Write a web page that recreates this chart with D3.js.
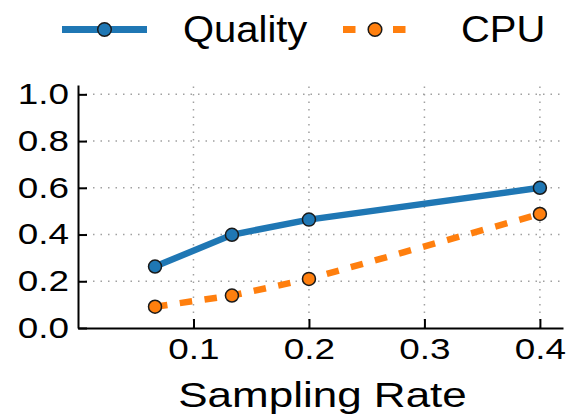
<!DOCTYPE html>
<html>
<head>
<meta charset="utf-8">
<script src="https://cdn.jsdelivr.net/npm/d3@7"></script>
<style>
  body { margin: 0; background: #fff; }
  svg { font-family: "Liberation Sans", Arial, Helvetica, sans-serif; }
  .grid line { stroke: #a0a0a0; stroke-width: 1.5; stroke-dasharray: 1.5, 6; }
  .axis path, .axis line { stroke: #000; stroke-width: 2; }
</style>
</head>
<body>
<div class="chart"></div>
<script>
// data
var samplingRate = [0.0667, 0.1333, 0.2, 0.4];
var quality = [0.263, 0.399, 0.464, 0.600];
var cpu = [0.091, 0.139, 0.210, 0.488];
var xTicks = [0.1, 0.2, 0.3, 0.4];
var yTicks = [0.0, 0.2, 0.4, 0.6, 0.8, 1.0];

// dimensions
var W = 568, H = 418;
var plotLeft = 78, plotRight = 563, plotTop = 85, plotBottom = 328;
var stretch = 1.25;

var x = d3.scaleLinear().domain([0, 0.42]).range([plotLeft, plotRight]);
var y = d3.scaleLinear().domain([0, 1.04]).range([plotBottom, plotTop]);

var svg = d3.select(".chart").append("svg")
  .attr("width", W)
  .attr("height", H);

// grid
var grid = svg.append("g").attr("class", "grid");
grid.selectAll(".gx")
  .data(xTicks)
  .enter().append("line")
  .attr("x1", function(d) { return x(d); })
  .attr("x2", function(d) { return x(d); })
  .attr("y1", plotBottom)
  .attr("y2", y(1.04));
grid.selectAll(".gy")
  .data(yTicks.slice(1))
  .enter().append("line")
  .attr("x1", plotLeft)
  .attr("x2", plotRight)
  .attr("y1", function(d) { return y(d); })
  .attr("y2", function(d) { return y(d); });

// axes
var xAxis = svg.append("g")
  .attr("class", "axis")
  .attr("transform", "translate(0," + plotBottom + ")")
  .call(d3.axisBottom(x)
    .tickValues(xTicks)
    .tickSizeInner(-9)
    .tickSizeOuter(0)
    .tickPadding(10)
    .tickFormat(d3.format(".1f")));
xAxis.selectAll("text")
  .attr("font-size", 29.5)
  .attr("fill", "#000")
  .attr("transform", "scale(" + stretch + ",1)");

var yAxis = svg.append("g")
  .attr("class", "axis")
  .attr("transform", "translate(" + plotLeft + ",0)")
  .call(d3.axisLeft(y)
    .tickValues(yTicks)
    .tickSizeInner(-9)
    .tickSizeOuter(0)
    .tickPadding(9)
    .tickFormat(d3.format(".1f")));
yAxis.selectAll("text")
  .attr("font-size", 29.5)
  .attr("fill", "#000")
  .attr("x", -9 / stretch)
  .attr("transform", "scale(" + stretch + ",1)");

// x label
svg.append("text")
  .attr("transform", "translate(" + ((plotLeft + plotRight) / 2 + 2) + ",407) scale(1.24,1)")
  .attr("text-anchor", "middle")
  .attr("font-size", 35.5)
  .text("Sampling Rate");

// series
var line = d3.line()
  .x(function(d) { return x(d[0]); })
  .y(function(d) { return y(d[1]); });

var series = [
  {name: "Quality", values: quality, color: "#1f77b4", dash: null},
  {name: "CPU", values: cpu, color: "#ff7f0e", dash: "12.5,12.5"}
];

series.forEach(function(s) {
  var pts = samplingRate.map(function(r, i) { return [r, s.values[i]]; });
  svg.append("path")
    .datum(pts)
    .attr("fill", "none")
    .attr("stroke", s.color)
    .attr("stroke-width", 6.5)
    .attr("stroke-dasharray", s.dash)
    .attr("d", line);
  svg.selectAll(".pt-" + s.name)
    .data(pts)
    .enter().append("circle")
    .attr("cx", function(d) { return x(d[0]); })
    .attr("cy", function(d) { return y(d[1]); })
    .attr("r", 6.5)
    .attr("fill", s.color)
    .attr("stroke", "#1a1a1a")
    .attr("stroke-width", 1.5);
});

// legend
var legend = [
  {x0: 62, x1: 147, tx: 183},
  {x0: 343, x1: 407, tx: 461}
];
series.forEach(function(s, i) {
  var l = legend[i];
  svg.append("line")
    .attr("x1", l.x0).attr("x2", l.x1)
    .attr("y1", 29.5).attr("y2", 29.5)
    .attr("stroke", s.color)
    .attr("stroke-width", 7)
    .attr("stroke-dasharray", s.dash);
  svg.append("circle")
    .attr("cx", (l.x0 + l.x1) / 2)
    .attr("cy", 29.5)
    .attr("r", 6.8)
    .attr("fill", s.color)
    .attr("stroke", "#1a1a1a")
    .attr("stroke-width", 1.5);
  svg.append("text")
    .attr("transform", "translate(" + l.tx + ",42) scale(1.08,1)")
    .attr("font-size", 37)
    .text(s.name);
});
</script>
</body>
</html>
